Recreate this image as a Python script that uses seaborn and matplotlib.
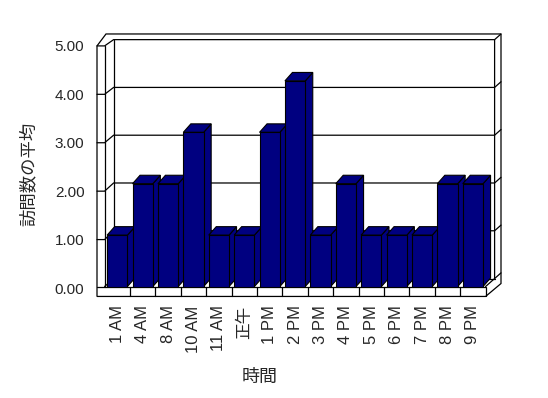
import matplotlib
matplotlib.use("Agg")
import matplotlib.pyplot as plt
from matplotlib.patches import Polygon
import seaborn as sns
import pandas as pd

# data
hours = ['1 AM', '4 AM', '8 AM', '10 AM', '11 AM', '正午', '1 PM', '2 PM',
         '3 PM', '4 PM', '5 PM', '6 PM', '7 PM', '8 PM', '9 PM']
avg_visits = [1, 2, 2, 3, 1, 1, 3, 4, 1, 2, 1, 1, 1, 2, 2]
grid_values = [0, 1, 2, 3, 4, 5]
grid_labels = ['0.00', '1.00', '2.00', '3.00', '4.00', '5.00']

df = pd.DataFrame({'時間': hours, '訪問数の平均': avg_visits})

sns.set_style('white')
plt.rcParams['font.family'] = ['Liberation Sans', 'Noto Sans CJK JP', 'DejaVu Sans']

W, H = 548, 398
fig = plt.figure(figsize=(W / 100, H / 100), dpi=100)

# front plane of the 3d box (pixels)
X0, X1, Y0 = 104.6, 485.6, 288
PX_CAT = (X1 - X0) / len(hours)
PX_VAL = 51.7
ax = fig.add_axes([X0 / W, (H - Y0) / H, (X1 - X0) / W, 5 * PX_VAL / H])


def P(xp, yp):
    # pixel position -> data position
    return ((xp - X0) / PX_CAT - 0.5, (Y0 - yp) / PX_VAL)


def wall_front(g):
    return 289.5 - 48.7 * g


def wall_back(g):
    return 280 - 48.06 * g


XL, XBI, XRI, XRO = 97, 113.6, 494.6, 501   # wall edges
THK = (6.4, -5.7)                            # back wall thickness


def line(pts, z=1, lw=0.9):
    xs, ys = zip(*[P(*p) for p in pts])
    ax.plot(xs, ys, color='black', lw=lw, zorder=z, clip_on=False,
            solid_joinstyle='miter')


# bars (front faces)
sns.barplot(data=df, x='時間', y='訪問数の平均', color='#000080',
            saturation=1, width=0.8, edgecolor='black', linewidth=0.8, ax=ax)
bars = list(ax.containers[0])

# box outline
outline = [(XL, 46), (106, 34), (XRO, 34), (XRO, 285), (X1, 298), (XL, 298)]
ax.add_patch(Polygon([P(*p) for p in outline], closed=True, fc='white',
                     ec='black', lw=0.9, zorder=0.5, clip_on=False))
line([(X0, 46), (X0, Y0)])
line([(XBI, wall_back(5)), (XBI, wall_back(0))])
line([(XRI, wall_back(5)), (XRI, wall_back(0)), (X1, Y0)])
line([(XRI, wall_back(0)), (XRO, wall_back(0) + THK[1])])
line([(XBI, wall_back(0)), (XRI, wall_back(0))])
line([(X0, Y0), (XBI, wall_back(0))])

# gridlines on the walls
for g in grid_values[1:]:
    yf, yb = wall_front(g), wall_back(g)
    line([(XL, yf), (X0, yf), (XBI, yb), (XRI, yb), (XRO, yb + THK[1])])

# floor front face with category dividers
line([(XL, Y0), (X1, Y0), (X1, 298)])
for i in range(1, len(hours)):
    line([(X0 + i * PX_CAT, Y0), (X0 + i * PX_CAT, 298)])

# top and side faces of the bars
dx, dy = 7.5 / PX_CAT, 8.5 / PX_VAL
for i, bar in enumerate(bars):
    x, w, h = bar.get_x(), bar.get_width(), bar.get_height()
    top = [(x, h), (x + w, h), (x + w + dx, h + dy), (x + dx, h + dy)]
    side = [(x + w, 0), (x + w + dx, dy), (x + w + dx, h + dy), (x + w, h)]
    for pts in (side, top):
        ax.add_patch(Polygon(pts, closed=True, fc='#000080', ec='black',
                             lw=0.8, zorder=2 + 2 * i, clip_on=False))
    bar.set_zorder(3 + 2 * i)

ax.set_xlim(-0.5, len(hours) - 0.5)
ax.set_ylim(0, 5)
for s in ax.spines.values():
    s.set_visible(False)

ax.set_yticks([P(0, wall_front(g))[1] for g in grid_values], grid_labels)
ax.set_xticks(range(len(hours)), hours, rotation=90)
ax.tick_params(axis='y', length=0, pad=14.5, labelsize=11)
ax.tick_params(axis='x', length=0, pad=12.5, labelsize=12)

ax.set_ylabel('訪問数の平均', fontsize=12.5)
ax.set_xlabel('時間', fontsize=13)
ax.yaxis.set_label_coords((37 - X0) / (X1 - X0), (Y0 - 174) / (5 * PX_VAL))
ax.xaxis.set_label_coords((260 - X0) / (X1 - X0), (Y0 - 369) / (5 * PX_VAL))

fig.savefig('out.png', dpi=100)
